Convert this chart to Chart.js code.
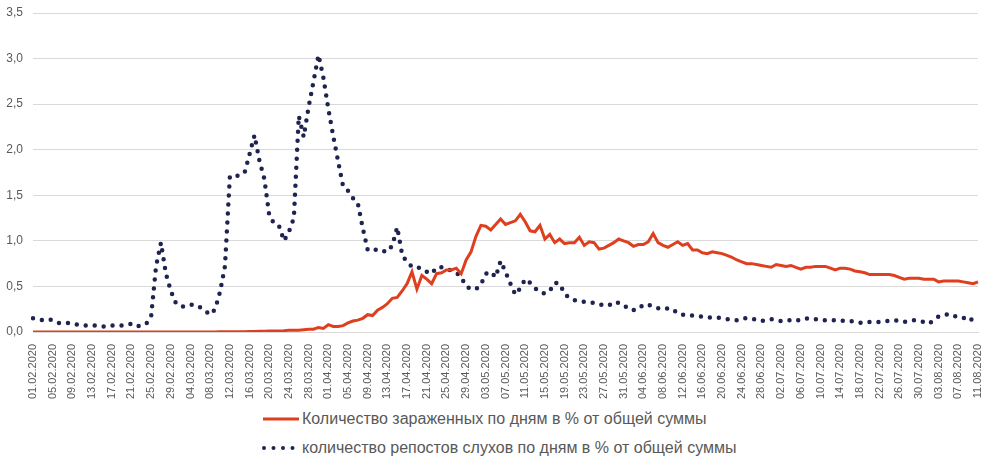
<!DOCTYPE html>
<html lang="ru">
  <head>
    <meta charset="UTF-8" />
    <title>Заражения и репосты слухов</title>
    <script src="https://cdn.jsdelivr.net/npm/chart.js@4.4.1/dist/chart.umd.min.js"></script>
    <style>
      body {
        margin: 0;
        background: #ffffff;
        font-family: "Liberation Sans", Arial, sans-serif;
      }
      .chart-box {
        position: relative;
        width: 984px;
        height: 402px;
      }
      .legend {
        position: absolute;
        left: 262px;
        top: 404px;
        color: #595959;
        font-size: 16px;
      }
      .legend-row {
        display: flex;
        align-items: center;
        height: 29px;
      }
      .legend-row svg {
        margin-right: 3px;
      }
    </style>
  </head>
  <body>
    <div class="chart-box">
      <canvas id="rumorChart"></canvas>
    </div>
    <div class="legend">
      <div class="legend-row">
        <svg width="37" height="10"><line x1="1" y1="5" x2="37" y2="5" stroke="#DF3F1E" stroke-width="3" /></svg>
        <span id="legend0"></span>
      </div>
      <div class="legend-row">
        <svg width="37" height="10"><line x1="2" y1="5" x2="34" y2="5" stroke="#1F2350" stroke-width="4" stroke-linecap="round" stroke-dasharray="0 9.5" /></svg>
        <span id="legend1"></span>
      </div>
    </div>

    <script>
      // 01.02.2020 .. 11.08.2020, one value per day
      const startDate = new Date(2020, 1, 1);
      const dayCount = 193;
      const dates = [];
      for (let i = 0; i < dayCount; i++) {
        const d = new Date(startDate.getFullYear(), startDate.getMonth(), startDate.getDate() + i);
        const dd = String(d.getDate()).padStart(2, "0");
        const mm = String(d.getMonth() + 1).padStart(2, "0");
        dates.push(dd + "." + mm + "." + d.getFullYear());
      }

      const infectedLabel = "Количество зараженных по дням в % от общей суммы";
      const rumorsLabel = "количество репостов слухов по дням в % от общей суммы";

      // infected, % of total
      const infected = [
        0, 0, 0, 0, 0, 0, 0, 0, 0, 0,
        0, 0, 0, 0, 0, 0, 0, 0, 0, 0,
        0, 0, 0, 0, 0, 0, 0, 0, 0, 0,
        0, 0, 0, 0, 0, 0, 0.001, 0.001, 0.002, 0.002,
        0.003, 0.003, 0.004, 0.004, 0.005, 0.005, 0.007, 0.008, 0.01, 0.01,
        0.012, 0.015, 0.02, 0.02, 0.02, 0.025, 0.03, 0.03, 0.05, 0.04,
        0.08, 0.06, 0.06, 0.07, 0.1, 0.12, 0.13, 0.15, 0.19, 0.18,
        0.24, 0.27, 0.31, 0.37, 0.38, 0.45, 0.53, 0.66, 0.47, 0.62,
        0.58, 0.53, 0.64, 0.65, 0.68, 0.68, 0.7, 0.64, 0.79, 0.88,
        1.05, 1.17, 1.16, 1.12, 1.18, 1.24, 1.18, 1.2, 1.22, 1.29,
        1.21, 1.11, 1.1, 1.17, 1.02, 1.07, 0.98, 1.02, 0.97, 0.98,
        0.98, 1.04, 0.95, 0.99, 0.98, 0.91, 0.92, 0.95, 0.98, 1.02,
        1.0, 0.98, 0.94, 0.96, 0.96, 0.99, 1.08, 0.98, 0.95, 0.93,
        0.96, 0.99, 0.95, 0.97, 0.9, 0.9, 0.87, 0.86, 0.88, 0.87,
        0.86, 0.84, 0.82, 0.79, 0.77, 0.75, 0.75, 0.74, 0.73, 0.72,
        0.71, 0.74, 0.73, 0.72, 0.73, 0.71, 0.69, 0.71, 0.71, 0.72,
        0.72, 0.72, 0.7, 0.68, 0.7, 0.7, 0.69, 0.67, 0.66, 0.65,
        0.63, 0.63, 0.63, 0.63, 0.63, 0.62, 0.6, 0.58, 0.59, 0.59,
        0.59, 0.58, 0.58, 0.58, 0.55, 0.56, 0.56, 0.56, 0.56, 0.55,
        0.54, 0.53, 0.55
      ];

      // rumor reposts, % of total
      const rumors = [
        0.15, 0.14, 0.13, 0.14, 0.13, 0.1, 0.1, 0.1, 0.09, 0.08,
        0.07, 0.07, 0.07, 0.07, 0.06, 0.06, 0.07, 0.07, 0.07, 0.08,
        0.09, 0.06, 0.07, 0.09, 0.17, 0.72, 0.98, 0.64, 0.45, 0.32,
        0.28, 0.28, 0.3, 0.3, 0.27, 0.23, 0.19, 0.25, 0.44, 0.72,
        1.71, 1.71, 1.72, 1.75, 1.95, 2.16, 1.88, 1.68, 1.28, 1.19,
        1.16, 1.0, 1.1, 1.25, 2.37, 2.14, 2.47, 2.75, 3.04, 2.79,
        2.45, 2.15, 1.87, 1.6, 1.55, 1.47, 1.41, 1.14, 0.9, 0.89,
        0.91, 0.89, 0.88, 0.95, 1.15, 0.85, 0.76, 0.72, 0.72, 0.68,
        0.66, 0.64, 0.71, 0.71, 0.7, 0.67, 0.65, 0.6, 0.5, 0.47,
        0.47, 0.52, 0.64, 0.66, 0.6, 0.78, 0.66, 0.53, 0.41, 0.48,
        0.58, 0.54, 0.48, 0.44, 0.42, 0.45, 0.54, 0.53, 0.42, 0.37,
        0.35, 0.34, 0.33, 0.32, 0.32, 0.3, 0.3, 0.29, 0.33, 0.32,
        0.3, 0.25, 0.24, 0.25, 0.3, 0.3, 0.28, 0.26, 0.25, 0.26,
        0.25, 0.2, 0.19, 0.18, 0.18, 0.17, 0.17, 0.16, 0.16, 0.16,
        0.15, 0.14, 0.13, 0.13, 0.15, 0.15, 0.15, 0.13, 0.12, 0.13,
        0.14, 0.13, 0.12, 0.13, 0.13, 0.12, 0.14, 0.15, 0.14, 0.14,
        0.13, 0.13, 0.13, 0.13, 0.13, 0.12, 0.12, 0.11, 0.1, 0.11,
        0.11, 0.11, 0.11, 0.12, 0.12, 0.13, 0.12, 0.11, 0.12, 0.13,
        0.12, 0.11, 0.09, 0.13, 0.17, 0.18, 0.2, 0.18, 0.16, 0.15,
        0.17, 0.12, 0.08
      ];

      const yTicks = [0, 0.5, 1, 1.5, 2, 2.5, 3, 3.5];

      document.getElementById("legend0").textContent = infectedLabel;
      document.getElementById("legend1").textContent = rumorsLabel;

      const ctx = document.getElementById("rumorChart").getContext("2d");

      new Chart(ctx, {
        type: "line",
        data: {
          labels: dates,
          datasets: [
            {
              label: infectedLabel,
              data: infected,
              borderColor: "#DF3F1E",
              borderWidth: 3,
              pointRadius: 0,
              tension: 0,
              fill: false,
            },
            {
              label: rumorsLabel,
              data: rumors,
              borderColor: "#1F2350",
              borderWidth: 4.5,
              borderDash: [0, 9],
              borderCapStyle: "round",
              pointRadius: 0,
              tension: 0,
              fill: false,
            },
          ],
        },
        options: {
          responsive: true,
          maintainAspectRatio: false,
          animation: false,
          layout: { padding: { top: 13, right: 6, left: 0, bottom: 0 } },
          plugins: {
            legend: { display: false },
            tooltip: { enabled: false },
          },
          scales: {
            x: {
              offset: false,
              grid: { display: false },
              border: { display: true, color: "#d9d9d9", width: 1 },
              ticks: {
                autoSkip: false,
                maxRotation: 90,
                minRotation: 90,
                padding: 4,
                color: "#595959",
                font: { family: "Liberation Sans", size: 11 },
                callback: function (value, index) {
                  return index % 4 === 0 ? dates[index] : null;
                },
              },
              afterFit: function (axis) {
                axis.height = 70;
                axis.paddingLeft = 0;
                axis.paddingRight = 0;
              },
            },
            y: {
              min: 0,
              max: 3.5,
              afterBuildTicks: function (axis) {
                axis.ticks = yTicks.map((v) => ({ value: v }));
              },
              grid: { color: "#d9d9d9", lineWidth: 1, drawTicks: false },
              border: { display: false },
              ticks: {
                padding: 10,
                color: "#595959",
                font: { family: "Liberation Sans", size: 12 },
                callback: function (value) {
                  return value.toFixed(1).replace(".", ",");
                },
              },
              afterFit: function (axis) {
                axis.width = 33;
                axis.paddingTop = 0;
                axis.paddingBottom = 0;
              },
            },
          },
        },
      });
    </script>
  </body>
</html>
